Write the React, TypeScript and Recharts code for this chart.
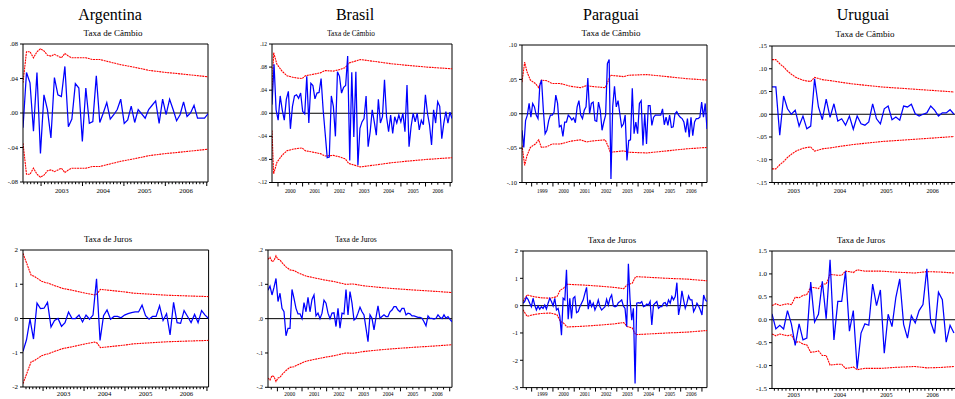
import React from 'react';
import { LineChart, Line, XAxis, YAxis, ReferenceLine } from 'recharts';

// ---------------- DATA ----------------
// Recursive residuals (blue) and +/- 2 S.E. band keypoints [obsIndex, halfWidth] (red)

const argCambio = [
  -0.017, 0.047, 0.035, -0.021, 0.047, -0.047, 0.021, 0.004, -0.029, 0.041,
  0.021, 0.019, 0.054, -0.016, -0.007, 0.034, 0.029, -0.033, 0.029, -0.012,
  -0.010, 0.043, -0.011, 0.000, 0.012, -0.007, -0.002, 0.004, 0.016, -0.012,
  -0.008, 0.008, -0.011, 0.004, -0.001, -0.006, 0.004, 0.009, 0.014, -0.012,
  0.016, -0.002, 0.016, 0.004, -0.009, -0.002, 0.013, -0.004, 0.000, 0.009,
  -0.006, -0.006, -0.006, -0.001,
];
const argCambioBand: [number, number][] = [
  [0, 0.035], [1, 0.071], [2, 0.071], [3, 0.064], [4, 0.071], [5, 0.0745], [6, 0.072], [7, 0.067],
  [8, 0.066], [9, 0.068], [10, 0.066], [11, 0.064], [12, 0.069], [13, 0.066], [14, 0.064], [18, 0.064],
  [20, 0.062], [22, 0.062], [24, 0.06], [28, 0.056], [32, 0.053], [36, 0.0495], [41, 0.047], [46, 0.045],
  [53, 0.042],
];

const braCambio = [
  0.015, 0.085, 0.006, -0.012, 0.030, 0.006, -0.012, 0.024, 0.038, -0.027,
  0.012, 0.030, 0.032, 0.026, 0.035, 0.003, -0.001, 0.064, -0.017, 0.052,
  0.048, 0.025, 0.035, 0.036, 0.060, 0.006, -0.035, -0.077, -0.076, 0.030,
  0.012, -0.040, 0.072, 0.064, 0.035, 0.045, 0.048, 0.099, -0.082, 0.071,
  -0.041, 0.072, -0.090, -0.026, -0.015, -0.009, 0.030, -0.058, -0.032, 0.006,
  -0.015, -0.038, 0.024, -0.017, -0.006, 0.058, -0.006, -0.032, -0.003, -0.035,
  -0.006, -0.017, -0.003, -0.015, 0.000, -0.032, 0.049, -0.058, -0.023, 0.000,
  -0.015, 0.000, -0.029, -0.012, -0.020, 0.032, 0.000, -0.020, -0.055, 0.006,
  -0.017, 0.020, 0.012, -0.044, -0.017, 0.003, -0.017, 0.002, -0.009,
];
const braCambioBand: [number, number][] = [
  [0, 0.03], [0.8, 0.105], [2.4, 0.085], [4.9, 0.073], [7.3, 0.065], [10.6, 0.062], [14.7, 0.06],
  [16.3, 0.065], [19.5, 0.067], [23.6, 0.07], [26, 0.074], [30, 0.073], [33.4, 0.076], [35.8, 0.079],
  [37.5, 0.087], [43.2, 0.093], [49.7, 0.09], [57.8, 0.086], [66, 0.083], [75.7, 0.08], [88, 0.077],
];

const parCambio = [
  -0.024, -0.049, -0.010, -0.002, 0.015, -0.005, 0.015, 0.010, -0.002, -0.007,
  0.041, 0.049, 0.005, -0.029, -0.024, -0.010, -0.002, -0.002, 0.002, 0.027,
  0.015, -0.019, -0.017, -0.033, -0.012, -0.012, -0.002, -0.005, -0.009, -0.006,
  -0.013, 0.010, 0.019, -0.002, -0.007, 0.005, 0.010, 0.052, 0.000, 0.015,
  0.017, -0.010, -0.011, 0.017, 0.005, -0.024, -0.012, -0.002, 0.073, 0.079,
  -0.095, 0.011, 0.040, 0.010, 0.019, 0.000, -0.019, -0.015, -0.002, -0.068,
  -0.039, -0.038, 0.037, -0.029, -0.012, -0.029, 0.015, 0.019, -0.046, 0.000,
  -0.044, 0.012, 0.012, -0.017, -0.005, -0.002, -0.002, -0.002, -0.002, 0.007,
  -0.016, -0.005, -0.017, -0.002, -0.020, -0.019, 0.000, 0.003, -0.002, -0.005,
  -0.007, -0.012, -0.027, -0.007, -0.034, -0.005, -0.032, -0.012, -0.007, -0.007,
  -0.005, 0.017, -0.005, 0.015, -0.022,
];
const parCambioBand: [number, number][] = [
  [0, 0.046], [1.5, 0.075], [2.8, 0.061], [4.7, 0.049], [7.5, 0.044], [9.4, 0.038], [10.9, 0.049],
  [14, 0.048], [16.9, 0.044], [21.5, 0.044], [27.2, 0.04], [32.8, 0.038], [36.5, 0.041], [38.4, 0.04],
  [42.1, 0.039], [46.8, 0.038], [48.7, 0.049], [49.6, 0.056], [57.1, 0.054], [59.9, 0.056],
  [70.2, 0.057], [81.5, 0.054], [92.7, 0.051], [104, 0.049],
];

const uruCambio = [
  0.060, 0.060, -0.046, 0.040, 0.012, 0.000, 0.009, -0.026, -0.004, -0.032,
  -0.026, 0.078, 0.016, -0.012, 0.033, -0.007, 0.023, -0.015, -0.010, -0.024,
  -0.004, -0.033, -0.004, -0.021, -0.024, -0.017, 0.023, -0.010, -0.021, 0.012,
  0.018, -0.012, -0.006, -0.013, 0.018, 0.016, 0.022, 0.001, -0.004, 0.000,
  0.003, 0.018, 0.009, -0.004, 0.003, 0.003, 0.010, 0.000,
];
const uruCambioBand: [number, number][] = [
  [0, 0.12], [1, 0.12], [2, 0.111], [3, 0.104], [4, 0.095], [5, 0.088], [6, 0.082], [7, 0.078],
  [8, 0.075], [9, 0.073], [10, 0.072], [11, 0.081], [13, 0.076], [15, 0.074], [18, 0.07],
  [21.5, 0.066], [25, 0.063], [28.3, 0.06], [33.4, 0.057], [38.6, 0.054], [47, 0.049],
];

const argJuros = [
  -0.96, -0.62, -0.02, -0.60, 0.45, 0.29, 0.30, 0.47, -0.25, -0.06,
  0.00, -0.23, -0.12, 0.19, 0.00, 0.00, 0.10, -0.10, 0.10, -0.02,
  0.10, 1.16, -0.64, 0.08, 0.25, -0.02, 0.06, 0.06, 0.02, 0.10,
  0.14, 0.17, 0.19, 0.19, 0.39, 0.08, -0.02, 0.06, 0.06, 0.37,
  -0.06, 0.14, -0.48, 0.47, -0.12, -0.14, 0.23, 0.06, -0.12, 0.12,
  -0.12, 0.23, 0.10, 0.00,
];
const argJurosBand: [number, number][] = [
  [0, 1.9], [2.3, 1.27], [3.4, 1.22], [4.4, 1.15], [5.3, 1.09], [6.3, 1.05], [7.3, 1.03], [9.3, 0.95],
  [11.3, 0.88], [14.3, 0.82], [17.3, 0.75], [20.4, 0.69], [21.1, 0.71], [22.1, 0.85], [24, 0.83],
  [27.8, 0.79], [31.6, 0.74], [36.3, 0.71], [41.1, 0.68], [46.8, 0.66], [53, 0.64],
];

const braJuros = [
  0.083, 0.095, 0.069, 0.091, 0.117, 0.050, 0.074, 0.030, 0.020, -0.050,
  -0.028, -0.028, 0.085, 0.059, 0.030, 0.014, 0.014, 0.000, 0.047, 0.020,
  0.062, 0.020, 0.056, 0.069, 0.008, 0.016, 0.000, 0.016, 0.054, 0.045,
  0.016, 0.000, 0.016, 0.017, -0.023, 0.030, -0.028, 0.016, 0.014, 0.085,
  0.011, 0.079, 0.045, -0.004, 0.001, 0.016, 0.033, 0.020, 0.011, -0.028,
  -0.067, 0.011, 0.001, -0.033, 0.004, 0.037, 0.001, 0.006, 0.011, 0.006,
  0.006, 0.020, 0.025, 0.035, 0.035, 0.025, 0.020, 0.030, 0.030, 0.011,
  0.016, 0.014, 0.008, 0.008, 0.006, 0.004, 0.004, 0.001, -0.009, -0.021,
  0.008, 0.001, 0.001, -0.001, 0.001, 0.011, 0.004, 0.000, 0.011, 0.001,
  0.006, -0.002, -0.009,
];
const braJurosBand: [number, number][] = [
  [0, 0.173], [1, 0.179], [2, 0.166], [3, 0.169], [4, 0.183], [5, 0.173], [6, 0.171], [7, 0.163],
  [9, 0.151], [11, 0.142], [13, 0.14], [15, 0.134], [19, 0.124], [23, 0.119], [28, 0.113],
  [33, 0.108], [39, 0.1], [42.5, 0.101], [47.5, 0.096], [55.8, 0.091], [64, 0.087], [74, 0.083],
  [82.5, 0.08], [92, 0.076],
];

const parJuros = [
  0.09, 0.15, 0.31, 0.23, 0.09, -0.04, 0.27, 0.02, -0.16, -0.01,
  -0.13, -0.04, -0.10, 0.02, -0.13, 0.09, 0.27, 0.15, -0.01, 0.27,
  -0.16, -0.10, -0.38, -1.08, 0.27, 0.21, 1.31, -0.50, 0.27, -0.47,
  0.27, 0.33, -0.26, -0.22, -0.04, 0.09, 0.21, 0.45, 0.67, -0.13,
  0.21, -0.04, 0.09, -0.16, -0.01, 0.21, -0.04, -0.16, -0.10, -0.04,
  0.23, 0.02, 0.27, 0.39, -0.01, -0.04, -0.01, 0.11, 0.15, 0.21,
  -0.01, -0.10, -0.77, 1.53, 0.21, -0.53, -0.10, -2.85, 0.09, 0.11,
  0.09, 0.15, -0.04, -0.01, 0.06, 0.02, 0.15, -0.71, 0.02, 0.09,
  0.15, -0.10, -0.04, -0.04, 0.09, 0.11, -0.01, 0.21, 0.09, 0.33,
  0.21, 0.33, 0.84, -0.34, -0.01, 0.54, 0.21, -0.10, 0.09, 0.35,
  0.21, 0.21, -0.22, -0.10, 0.09, -0.01, -0.16, -0.34, 0.39, 0.21,
  0.15,
];
const parJurosBand: [number, number][] = [
  [0, 0.15], [2.4, 0.39], [6.4, 0.33], [10.4, 0.29], [16.3, 0.27], [20.3, 0.33], [22.3, 0.57],
  [24.3, 0.64], [26.3, 0.78], [34.3, 0.76], [44.2, 0.72], [54.2, 0.67], [60.2, 0.62], [62.2, 0.76],
  [65.3, 0.82], [67.3, 1.06], [74.3, 1.04], [86.3, 1.0], [98.2, 0.97], [110, 0.91],
];

const uruJuros = [
  0.13, -0.20, -0.12, -0.20, 0.20, -0.09, -0.56, -0.09, -0.44, -0.40,
  0.82, -0.05, 0.12, 0.84, 0.02, 1.31, -0.44, 0.40, 0.40, 1.06,
  -0.25, 0.20, -1.07, -0.29, -0.09, -0.12, 0.78, 0.31, 0.65, -0.73,
  0.12, -0.15, 0.49, 0.89, -0.10, -0.40, 0.09, -0.07, 0.20, 0.33,
  1.11, -0.05, -0.30, 0.60, 0.44, -0.49, -0.12, -0.29,
];
const uruJurosBand: [number, number][] = [
  [0, 0.31], [1, 0.35], [2, 0.31], [4, 0.35], [5, 0.33], [6, 0.49], [7, 0.48], [8, 0.53], [9, 0.55],
  [10, 0.71], [11, 0.7], [12, 0.68], [13, 0.78], [14, 0.78], [15, 0.99], [17, 0.97], [18, 0.97],
  [19, 1.06], [20, 1.05], [21, 1.03], [22, 1.09], [24, 1.06], [28.3, 1.06], [31.7, 1.04],
  [36.9, 1.02], [40, 1.05], [43.8, 1.04], [47, 1.02],
];

// tick labels
const argYears = ['2003', '2004', '2005', '2006'];
const braYears = ['2000', '2001', '2002', '2003', '2004', '2005', '2006'];
const parYears = ['1999', '2000', '2001', '2002', '2003', '2004', '2005', '2006'];
const uruYears = ['2003', '2004', '2005', '2006'];

const argCambioY = [0.08, 0.04, 0, -0.04, -0.08];
const argCambioYL = ['.08', '.04', '.00', '-.04', '-.08'];
const braCambioY = [0.12, 0.08, 0.04, 0, -0.04, -0.08, -0.12];
const braCambioYL = ['.12', '.08', '.04', '.00', '-.04', '-.08', '-.12'];
const parCambioY = [0.1, 0.05, 0, -0.05, -0.1];
const parCambioYL = ['.10', '.05', '.00', '-.05', '-.10'];
const uruCambioY = [0.15, 0.1, 0.05, 0, -0.05, -0.1, -0.15];
const uruCambioYL = ['.15', '.10', '.05', '.00', '-.05', '-.10', '-.15'];
const argJurosY = [2, 1, 0, -1, -2];
const argJurosYL = ['2', '1', '0', '-1', '-2'];
const braJurosY = [0.2, 0.1, 0, -0.1, -0.2];
const braJurosYL = ['.2', '.1', '.0', '-.1', '-.2'];
const parJurosY = [2, 1, 0, -1, -2, -3];
const parJurosYL = ['2', '1', '0', '-1', '-2', '-3'];
const uruJurosY = [1.5, 1, 0.5, 0, -0.5, -1, -1.5];
const uruJurosYL = ['1.5', '1.0', '0.5', '0.0', '-0.5', '-1.0', '-1.5'];

// ---------------- LAYOUT ----------------
const FONT = "'Liberation Serif','Times New Roman',Times,serif";
const AXL = 40, AXR = 4, AXT = 4, AXB = 16;

interface PanelCfg {
  values: number[];
  band: [number, number][];
  yTicks: number[];
  yLabels: string[];
  years: string[];
  t0: number;
  t1: number;
  tMax?: number;
  perYear: number;
  box: { left: number; top: number; width: number; height: number };
  xFont: number;
  yFont: number;
  xDy: number;
}

function makeTicks(t0: number, t1: number, perYear: number): number[] {
  const out: number[] = [];
  for (let y = Math.floor(t0); y <= Math.ceil(t1); y++) {
    for (let k = 0; k < perYear; k++) {
      const v = y + k / perYear;
      if (v >= t0 - 1e-9 && v <= t1 + 1e-9) out.push(v);
    }
  }
  return out;
}

function Panel({ cfg }: { cfg: PanelCfg }) {
  const { values, band, yTicks, yLabels, years, t0, t1, perYear, box, xFont, yFont, xDy } = cfg;
  const n = values.length;
  const step = (t1 - t0) / (n - 1);
  const toT = (i: number) => t0 + i * step;
  const res = values.map((v, i) => ({ x: toT(i), v }));
  const bd = band.map(([i, b]) => ({ x: toT(i), up: b, lo: -b }));
  const yMax = yTicks[0];
  const yMin = yTicks[yTicks.length - 1];
  const xMax = cfg.tMax ?? t1;
  const ticks = makeTicks(t0, xMax, perYear);
  const W = box.width + AXL + AXR;
  const H = box.height + AXT + AXB;

  const renderXTick = (props: any) => {
    const { x, y, payload } = props;
    const v: number = payload.value;
    const yr = Math.floor(v + 1e-7);
    const frac = v - yr;
    const major = frac < 1e-6;
    const mid = Math.abs(frac - 0.5) < 1e-6;
    const li = years.indexOf(String(yr));
    return (
      <g>
        <line x1={x} x2={x} y1={y} y2={y + (major ? 4 : 2.2)} stroke="#000" strokeWidth={1} />
        {mid && li >= 0 ? (
          <text x={x} y={y + xDy} textAnchor="middle" fontSize={xFont} fontFamily={FONT} fill="#000">
            {years[li]}
          </text>
        ) : null}
      </g>
    );
  };
  const renderYTick = (props: any) => {
    const { x, y, payload } = props;
    const idx = yTicks.findIndex((t) => Math.abs(t - payload.value) < 1e-9);
    return (
      <text x={x} y={y} dy={yFont * 0.35} textAnchor="end" fontSize={yFont} fontFamily={FONT} fill="#000">
        {idx >= 0 ? yLabels[idx] : ''}
      </text>
    );
  };

  return (
    <div style={{ position: 'absolute', left: box.left - AXL, top: box.top - AXT }}>
      <LineChart width={W} height={H} margin={{ top: AXT, right: AXR, left: 0, bottom: 0 }}>
        <XAxis
          type="number"
          dataKey="x"
          domain={[t0, xMax]}
          allowDataOverflow
          ticks={ticks}
          interval={0}
          tick={renderXTick}
          tickLine={false}
          tickSize={0}
          tickMargin={0}
          axisLine={{ stroke: '#000', strokeWidth: 1 }}
          height={AXB}
        />
        <YAxis
          type="number"
          domain={[yMin, yMax]}
          allowDataOverflow
          ticks={yTicks}
          interval={0}
          tick={renderYTick}
          tickLine={{ stroke: '#000' }}
          tickSize={3}
          tickMargin={2}
          axisLine={{ stroke: '#000', strokeWidth: 1 }}
          width={AXL}
        />
        <ReferenceLine y={yMax} stroke="#000" strokeWidth={1} />
        <ReferenceLine x={xMax} stroke="#000" strokeWidth={1} />
        <ReferenceLine y={0} stroke="#000" strokeWidth={1} />
        <Line data={bd} dataKey="up" type="linear" stroke="#ff0000" strokeWidth={1.1} strokeDasharray="2 0.7" dot={false} isAnimationActive={false} />
        <Line data={bd} dataKey="lo" type="linear" stroke="#ff0000" strokeWidth={1.1} strokeDasharray="2 0.7" dot={false} isAnimationActive={false} />
        <Line data={res} dataKey="v" type="linear" stroke="#0000ff" strokeWidth={1.25} dot={false} isAnimationActive={false} />
      </LineChart>
    </div>
  );
}

const panels: PanelCfg[] = [
  { values: argCambio, band: argCambioBand, yTicks: argCambioY, yLabels: argCambioYL, years: argYears,
    t0: 2002.564, t1: 2007.03, perYear: 12, box: { left: 23, top: 44.3, width: 185, height: 138 },
    xFont: 6.8, yFont: 6.5, xDy: 10.5 },
  { values: braCambio, band: braCambioBand, yTicks: braCambioY, yLabels: braCambioYL, years: braYears,
    t0: 1999.756, t1: 2007.077, perYear: 4, box: { left: 271.7, top: 44, width: 180, height: 138.5 },
    xFont: 5.4, yFont: 5.5, xDy: 10 },
  { values: parCambio, band: parCambioBand, yTicks: parCambioY, yLabels: parCambioYL, years: parYears,
    t0: 1998.547, t1: 2007.237, perYear: 4, box: { left: 521.7, top: 45, width: 185, height: 137.5 },
    xFont: 5.2, yFont: 6.5, xDy: 10 },
  { values: uruCambio, band: uruCambioBand, yTicks: uruCambioY, yLabels: uruCambioYL, years: uruYears,
    t0: 2003.032, t1: 2006.96, tMax: 2007.0, perYear: 12, box: { left: 772.3, top: 45.7, width: 183.8, height: 136.5 },
    xFont: 6.2, yFont: 6.5, xDy: 10.5 },
  { values: argJuros, band: argJurosBand, yTicks: argJurosY, yLabels: argJurosYL, years: argYears,
    t0: 2002.51, t1: 2007.04, perYear: 12, box: { left: 22.7, top: 250.3, width: 185.6, height: 137 },
    xFont: 6.8, yFont: 7, xDy: 9 },
  { values: braJuros, band: braJurosBand, yTicks: braJurosY, yLabels: braJurosYL, years: braYears,
    t0: 1999.618, t1: 2007.093, perYear: 4, box: { left: 268.3, top: 250, width: 184, height: 137.3 },
    xFont: 5.4, yFont: 6, xDy: 8.5 },
  { values: parJuros, band: parJurosBand, yTicks: parJurosY, yLabels: parJurosYL, years: parYears,
    t0: 1998.594, t1: 2007.237, perYear: 4, box: { left: 522.7, top: 250.7, width: 184, height: 136.6 },
    xFont: 5.2, yFont: 6.5, xDy: 8.5 },
  { values: uruJuros, band: uruJurosBand, yTicks: uruJurosY, yLabels: uruJurosYL, years: uruYears,
    t0: 2003.032, t1: 2006.96, tMax: 2007.0, perYear: 12, box: { left: 772.3, top: 250.7, width: 183.8, height: 137.5 },
    xFont: 6.2, yFont: 7, xDy: 9 },
];

const countryTitles = [
  { text: 'Argentina', x: 110, y: 19.5 },
  { text: 'Brasil', x: 355, y: 19.5 },
  { text: 'Paraguai', x: 611, y: 19.5 },
  { text: 'Uruguai', x: 863, y: 19.5 },
];
const subTitles = [
  { text: 'Taxa de Câmbio', x: 113, y: 36, size: 9 },
  { text: 'Taxa de Câmbio', x: 351, y: 35.5, size: 7.3 },
  { text: 'Taxa de Câmbio', x: 611, y: 36, size: 9 },
  { text: 'Taxa de Câmbio', x: 865, y: 36.5, size: 9 },
  { text: 'Taxa de Juros', x: 108, y: 241.5, size: 8.8 },
  { text: 'Taxa de Juros', x: 356, y: 241.5, size: 7.6 },
  { text: 'Taxa de Juros', x: 612, y: 242.5, size: 8.8 },
  { text: 'Taxa de Juros', x: 861, y: 243, size: 8.8 },
];

export default function App() {
  return (
    <div
      style={{
        position: 'absolute', left: 0, top: 0, width: 955, height: 399,
        overflow: 'hidden', background: '#fff', fontFamily: FONT,
      }}
    >
      {panels.map((p, i) => (
        <Panel key={i} cfg={p} />
      ))}
      <svg width={955} height={399} style={{ position: 'absolute', left: 0, top: 0, pointerEvents: 'none' }}>
        {countryTitles.map((t, i) => (
          <text key={'t' + i} x={t.x} y={t.y} textAnchor="middle" fontSize={16} fontFamily={FONT} fill="#000">
            {t.text}
          </text>
        ))}
        {subTitles.map((t, i) => (
          <text key={'s' + i} x={t.x} y={t.y} textAnchor="middle" fontSize={t.size} fontFamily={FONT} fill="#000">
            {t.text}
          </text>
        ))}
      </svg>
    </div>
  );
}
